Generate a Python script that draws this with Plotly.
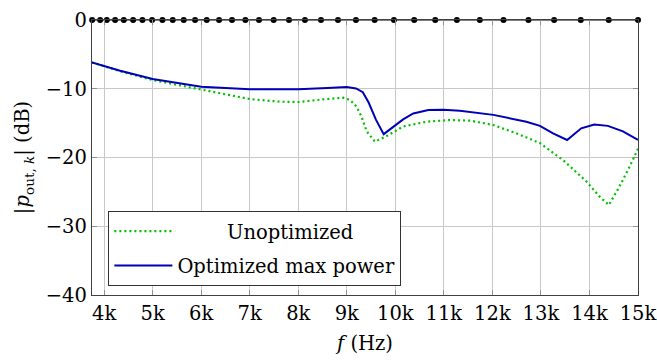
import plotly.graph_objects as go

# ---- data ----
x_ticks = [4000, 5000, 6000, 7000, 8000, 9000, 10000, 11000, 12000, 13000, 14000, 15000]
x_ticktext = ["4k", "5k", "6k", "7k", "8k", "9k", "10k", "11k", "12k", "13k", "14k", "15k"]
y_ticks = [0, -10, -20, -30, -40]
y_ticktext = ["0", "\u221210", "\u221220", "\u221230", "\u221240"]

f_dots = [3753, 3918, 4055, 4226, 4405, 4597, 4789, 4988, 5201, 5414, 5640, 5874,
          6114, 6368, 6635, 6910, 7191, 7493, 7809, 8138, 8468, 8818, 9188, 9573,
          9971, 10389, 10822, 11268, 11741, 12229, 12743, 13272, 13821, 14397, 15000]
p_dots = [0] * len(f_dots)

f_unopt = [3750, 4330, 5000, 6000, 7000, 7620, 8000, 8520, 8930, 9070, 9200, 9300,
           9410, 9580, 9790, 10160, 10640, 11120, 11540, 12020, 12500, 12980, 13460,
           13940, 14210, 14400, 14620, 14830, 15000]
p_unopt = [-6.16, -7.45, -8.73, -10.08, -11.5, -11.88, -11.93, -11.54, -11.3, -11.64,
           -12.6, -14.0, -16.2, -17.7, -17.0, -15.5, -14.8, -14.55, -14.64, -15.27,
           -16.5, -17.9, -20.4, -23.5, -25.7, -26.9, -24.2, -21.3, -18.7]

f_opt = [3750, 4330, 5000, 6000, 7000, 8000, 8600, 9000, 9190, 9330, 9450, 9600,
         9760, 10160, 10370, 10680, 10990, 11330, 12020, 12700, 12980, 13250, 13540,
         13830, 14100, 14380, 14690, 15000]
p_opt = [-6.16, -7.37, -8.58, -9.7, -10.08, -10.08, -9.9, -9.75, -9.95, -10.5, -12.0,
         -14.5, -16.6, -14.45, -13.6, -13.1, -13.04, -13.2, -13.8, -14.8, -15.4, -16.5,
         -17.45, -15.76, -15.2, -15.4, -16.2, -17.45]

FONT = "DejaVu Serif, Liberation Serif, serif"
FS = 19.5

fig = go.Figure()
fig.add_trace(go.Scatter(x=f_unopt, y=p_unopt, mode="lines",
                         name="\u00a0" * 8 + "Unoptimized",
                         legendgroup="a",
                         line=dict(color="#00c000", width=2.2, dash="2px,3px")))
fig.add_trace(go.Scatter(x=f_opt, y=p_opt, mode="lines", name="Optimized max power",
                         legendgroup="b",
                         line=dict(color="#0000b4", width=2)))
fig.add_trace(go.Scatter(x=f_dots, y=p_dots, mode="lines+markers", showlegend=False,
                         line=dict(color="black", width=1.2),
                         marker=dict(color="black", size=6), cliponaxis=False))

axis_common = dict(showline=True, linecolor="#404040", linewidth=1.3, mirror="ticks",
                   ticks="inside", ticklen=5, tickcolor="#909090", tickwidth=1,
                   showgrid=True, gridcolor="#c8c8c8", gridwidth=1, zeroline=False,
                   automargin=False,
                   tickfont=dict(family=FONT, size=FS, color="black"))

fig.update_xaxes(range=[3750, 15000], tickvals=x_ticks, ticktext=x_ticktext,
                 title=dict(text="<i>f</i> (Hz)", font=dict(family=FONT, size=FS, color="black"),
                            standoff=12),
                 **axis_common)
fig.update_yaxes(range=[-40, 0], tickvals=y_ticks, ticktext=y_ticktext,
                 title=dict(text="|<i>p</i><sub>out, <i>k</i></sub>| (dB)",
                            font=dict(family=FONT, size=FS, color="black"), standoff=10),
                 **axis_common)

fig.update_layout(
    width=657, height=363,
    margin=dict(l=92, r=19, t=20, b=68),
    paper_bgcolor="white", plot_bgcolor="white",
    font=dict(family=FONT, size=FS, color="black"),
    legend=dict(x=0.03, y=0.033, xanchor="left", yanchor="bottom",
                bgcolor="white", bordercolor="#333333", borderwidth=1,
                tracegroupgap=6, itemwidth=58,
                font=dict(family=FONT, size=FS, color="black")),
)

fig.write_html("out.html")
